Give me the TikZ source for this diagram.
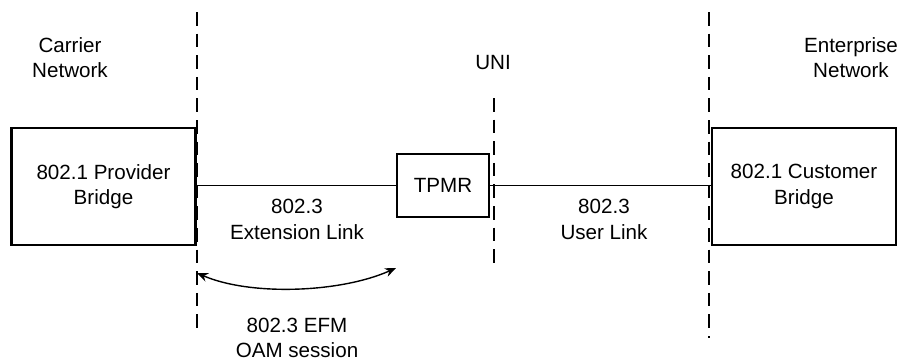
\documentclass[tikz,border=0pt]{standalone}
\usepackage{fontspec}
\setmainfont{Liberation Sans}
\usetikzlibrary{arrows.meta}
\begin{document}
\begin{tikzpicture}[x=0.5pt,y=-0.5pt,
  txt/.style={align=center,inner sep=0pt,font=\fontsize{10.3pt}{12.6pt}\selectfont},
  boxn/.style={draw,line width=1.3pt,inner sep=0pt,txt},
  bound/.style={line width=1.1pt,dash pattern=on 6.8pt off 4pt},
  link/.style={line width=0.7pt},
  oam/.style={line width=0.7pt,{Stealth[length=5.5pt,width=4.5pt]}-{Stealth[length=5.5pt,width=4.5pt]}}]
\useasboundingbox (0,0) rectangle (906,364);
% boxes
\node[boxn,minimum width=184.5pt/2,minimum height=117pt/2] (pb) at (103.5,186.5) {802.1 Provider\\Bridge};
\node[boxn,minimum width=92pt/2,minimum height=63pt/2] (tpmr) at (443,185.5) {TPMR};
\node[boxn,minimum width=184pt/2,minimum height=117pt/2] (cb) at (804,186.5) {802.1 Customer\\Bridge};
% boundaries
\coordinate (l1) at (197,12); \coordinate (l2) at (197,335);
\coordinate (u1) at (494,98); \coordinate (u2) at (494,268);
\coordinate (r1) at (709,12); \coordinate (r2) at (709,338);
\draw[bound] (l1) -- (l2);
\draw[bound] (u1) -- (u2);
\draw[bound] (r1) -- (r2);
% links
\draw[link] (tpmr.west -| pb.east) -- (tpmr.west);
\draw[link] (tpmr.east) -- (tpmr.east -| cb.west);
% OAM arrow
\coordinate (a1) at (197,273);
\coordinate (a2) at (396,268);
\draw[oam] (a1) .. controls (250,296) and (340,293) .. (a2);
% labels
\node[txt] (cn) at (70,57.5) {Carrier\\Network};
\node[txt] (en) at (851,57.5) {Enterprise\\Network};
\node[txt] (uni) at (493,63) {UNI};
\node[txt] (el) at (297,219.5) {802.3\\Extension Link};
\node[txt] (ul) at (604,219.5) {802.3\\User Link};
\node[txt] (efm) at (297,338) {802.3 EFM\\OAM session};
\end{tikzpicture}
\end{document}
